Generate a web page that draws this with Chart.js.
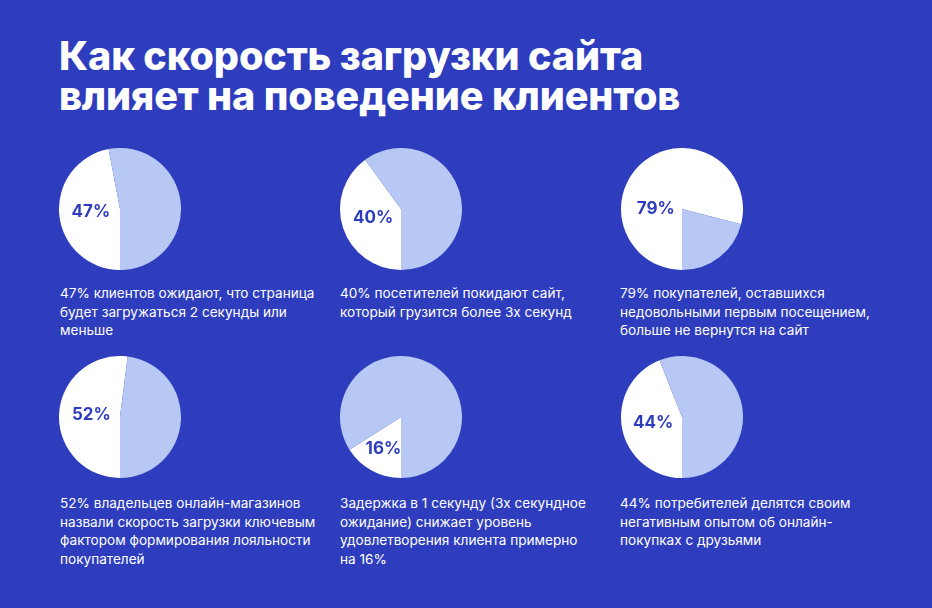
<!DOCTYPE html>
<html><head><meta charset="utf-8">
<script src="https://cdn.jsdelivr.net/npm/chart.js@4"></script>
<style>
html,body{margin:0;padding:0;}
body{width:932px;height:608px;background:#2e3dbd;position:relative;overflow:hidden;font-family:Inter,"Noto Sans",sans-serif;}
.t{position:absolute;left:59px;margin:0;color:#fff;font-weight:800;font-size:39.5px;line-height:39px;height:39px;letter-spacing:-0.1px;white-space:nowrap;}
.pie{position:absolute;width:122px;height:122px;}
.cap{position:absolute;color:#fff;font-size:13.6px;line-height:18.5px;width:270px;}
</style></head><body>
<div class="t" style="top:37px">Как скорость загрузки сайта</div>
<div class="t" style="top:77px">влияет на поведение клиентов</div>
<script>
const shares = [47, 40, 79, 52, 16, 44];
const shareLabels = ['47%', '40%', '79%', '52%', '16%', '44%'];
const captions = [
  '47% клиентов ожидают, что страница<br>будет загружаться 2 секунды или<br>меньше',
  '40% посетителей покидают сайт,<br>который грузится более 3х секунд',
  '79% покупателей, оставшихся<br>недовольными первым посещением,<br>больше не вернутся на сайт',
  '52% владельцев онлайн-магазинов<br>назвали скорость загрузки ключевым<br>фактором формирования лояльности<br>покупателей',
  'Задержка в 1 секунду (3х секундное<br>ожидание) снижает уровень<br>удовлетворения клиента примерно<br>на 16%',
  '44% потребителей делятся своим<br>негативным опытом об онлайн-<br>покупках с друзьями'
];

// layout (style only)
const colX = [120, 401, 682];
const rowY = [209, 417];
const capX = [60, 340, 620];
const capY = [284, 494];
const labelRadius = [0.48, 0.48, 0.43, 0.47, 0.6, 0.48];
const labelAngleOverride = [null, null, Math.PI, null, null, null];

const labelPlugin = {
  id: 'sliceLabel',
  afterDatasetsDraw(chart, args, opts) {
    const arc = chart.getDatasetMeta(0).data[0];
    const {x, y, startAngle, endAngle, outerRadius} = arc.getProps(['x','y','startAngle','endAngle','outerRadius'], true);
    const a = opts.angle != null ? opts.angle : (startAngle + endAngle) / 2;
    const r = outerRadius * opts.radius;
    const ctx = chart.ctx;
    ctx.save();
    ctx.font = '700 17px Inter, "Noto Sans", sans-serif';
    ctx.fillStyle = '#2e3dbd';
    ctx.textAlign = 'center';
    ctx.textBaseline = 'middle';
    ctx.fillText(opts.text, x + Math.cos(a) * r, y + Math.sin(a) * r);
    ctx.restore();
  }
};

shares.forEach((v, i) => {
  const col = i % 3, row = Math.floor(i / 3);
  const div = document.createElement('div');
  div.className = 'pie';
  div.style.left = (colX[col] - 61) + 'px';
  div.style.top = (rowY[row] - 61) + 'px';
  const cv = document.createElement('canvas');
  cv.width = 122; cv.height = 122;
  div.appendChild(cv);
  document.body.appendChild(div);

  new Chart(cv, {
    type: 'pie',
    data: {
      labels: ['share', 'rest'],
      datasets: [{
        data: [v, 100 - v],
        backgroundColor: ['#ffffff', '#b6c8f3'],
        borderWidth: 0,
        hoverOffset: 0
      }]
    },
    options: {
      responsive: false,
      animation: false,
      rotation: 180,
      layout: {padding: 0},
      plugins: {
        legend: {display: false},
        tooltip: {enabled: false},
        sliceLabel: {text: shareLabels[i], radius: labelRadius[i], angle: labelAngleOverride[i]}
      }
    },
    plugins: [labelPlugin]
  });

  const cap = document.createElement('div');
  cap.className = 'cap';
  cap.style.left = capX[col] + 'px';
  cap.style.top = capY[row] + 'px';
  cap.innerHTML = captions[i];
  document.body.appendChild(cap);
});
</script>
</body></html>
